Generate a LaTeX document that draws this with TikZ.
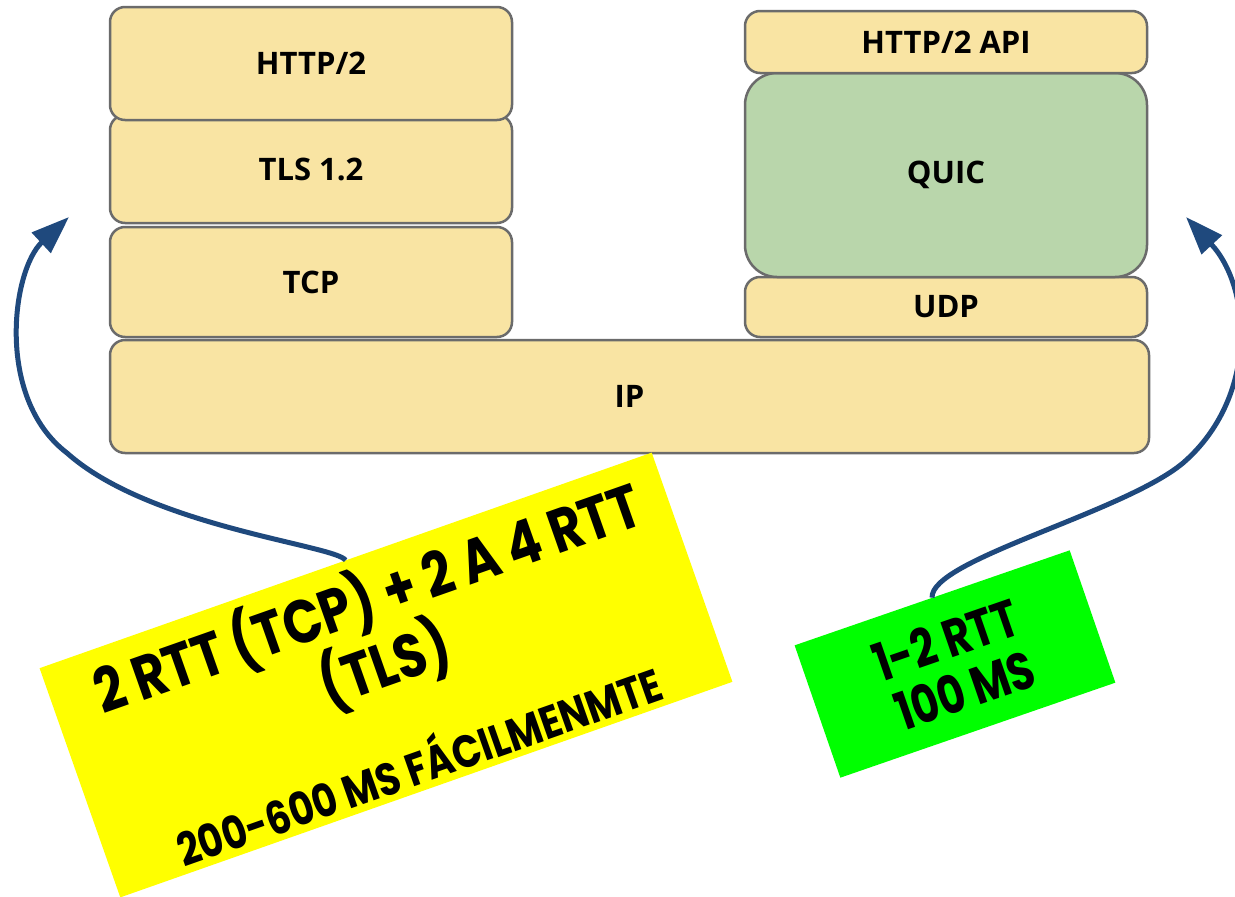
\documentclass[tikz,border=0pt]{standalone}
\usepackage{fontspec}
\setmainfont{Open Sans}
\newfontfamily\handfont{Poppins}
\usetikzlibrary{arrows.meta}
\definecolor{layerfill}{HTML}{F9E4A3}
\definecolor{quicfill}{HTML}{B9D6AB}
\definecolor{edgegray}{HTML}{6B6B6B}
\definecolor{arrowblue}{HTML}{1F497D}
\definecolor{noteyellow}{HTML}{FFFF00}
\definecolor{notegreen}{HTML}{00FF00}

\begin{document}
\begin{tikzpicture}[x=1pt,y=-1pt,
  layerbox/.style={draw=edgegray, line width=2.5pt, fill=layerfill,
    rounded corners=15pt, inner sep=0pt, minimum width=402pt,
    font=\fontsize{31}{36}\selectfont\bfseries},
  quicbox/.style={layerbox, fill=quicfill, rounded corners=32pt},
  note/.style={inner sep=0pt, draw=none},
  handbig/.style={font=\handfont\fontsize{51}{56}\selectfont\bfseries, inner sep=0pt, yscale=1.2},
  handsmall/.style={font=\handfont\fontsize{38}{42}\selectfont\bfseries, inner sep=0pt, yscale=1.2},
  handgreen/.style={font=\handfont\fontsize{42}{46}\selectfont\bfseries, inner sep=0pt, yscale=1.25},
  conn/.style={draw=arrowblue, line width=5pt,
    -{Triangle[length=38pt,width=27pt]}},
]
\useasboundingbox (0,0) rectangle (1235,897);

% TCP/TLS stack (left) and the shared IP layer
\node[layerbox, minimum width=1039pt, minimum height=113pt] (ip) at (629.5,396.5) {IP};
\node[layerbox, minimum height=110pt] (tcp) at (311,282) {TCP};
\node[layerbox, minimum height=108pt] (tls) at (311,169) {TLS 1.2};
\node[layerbox, minimum height=113pt] (http) at (311,63.5) {HTTP/2};

% QUIC stack (right)
\node[layerbox, minimum height=60pt] (udp) at (946,307) {UDP};
\node[quicbox, minimum height=204pt] (quic) at (946,175) {QUIC};
\node[layerbox, minimum height=62pt] (api) at (946,42) {HTTP/2 API};

% yellow sticky note
\begin{scope}[shift={(386,675)}, rotate=19.4, transform shape]
  \node[note, fill=noteyellow, minimum width=649pt, minimum height=243pt] (ynote) at (0,0) {};
  \node[handbig] (yl1) at (8,-78) {2 RTT (TCP) + 2 A 4 RTT};
  \node[handbig] (yl2) at (2,-10) {(TLS)};
  \node[handsmall] (yl3) at (1,93) {200-600 MS FÁCILMENMTE};
\end{scope}

% green sticky note
\begin{scope}[shift={(955,664)}, rotate=19.06, transform shape]
  \node[note, fill=notegreen, minimum width=291pt, minimum height=140pt] (gnote) at (0,0) {};
  \node[handgreen] (gl1) at (-1,-26) {1-2 RTT};
  \node[handgreen] (gl2) at (1,28) {100 MS};
\end{scope}

% curved arrows from the notes up to the stacks
\coordinate (lbend) at (67,453);
\coordinate (ltip) at (69,217);
\coordinate (rbend) at (1183,463);
\coordinate (rtip) at (1186,217);

\draw[conn] (ynote.north) .. controls (335,545) and (150,527) .. (lbend)
  .. controls (-5,398) and (12,270) .. (ltip);
\draw[conn] (gnote.north) .. controls (930,560) and (1123,513) .. (rbend)
  .. controls (1258,398) and (1252,288) .. (rtip);
\end{tikzpicture}
\end{document}
